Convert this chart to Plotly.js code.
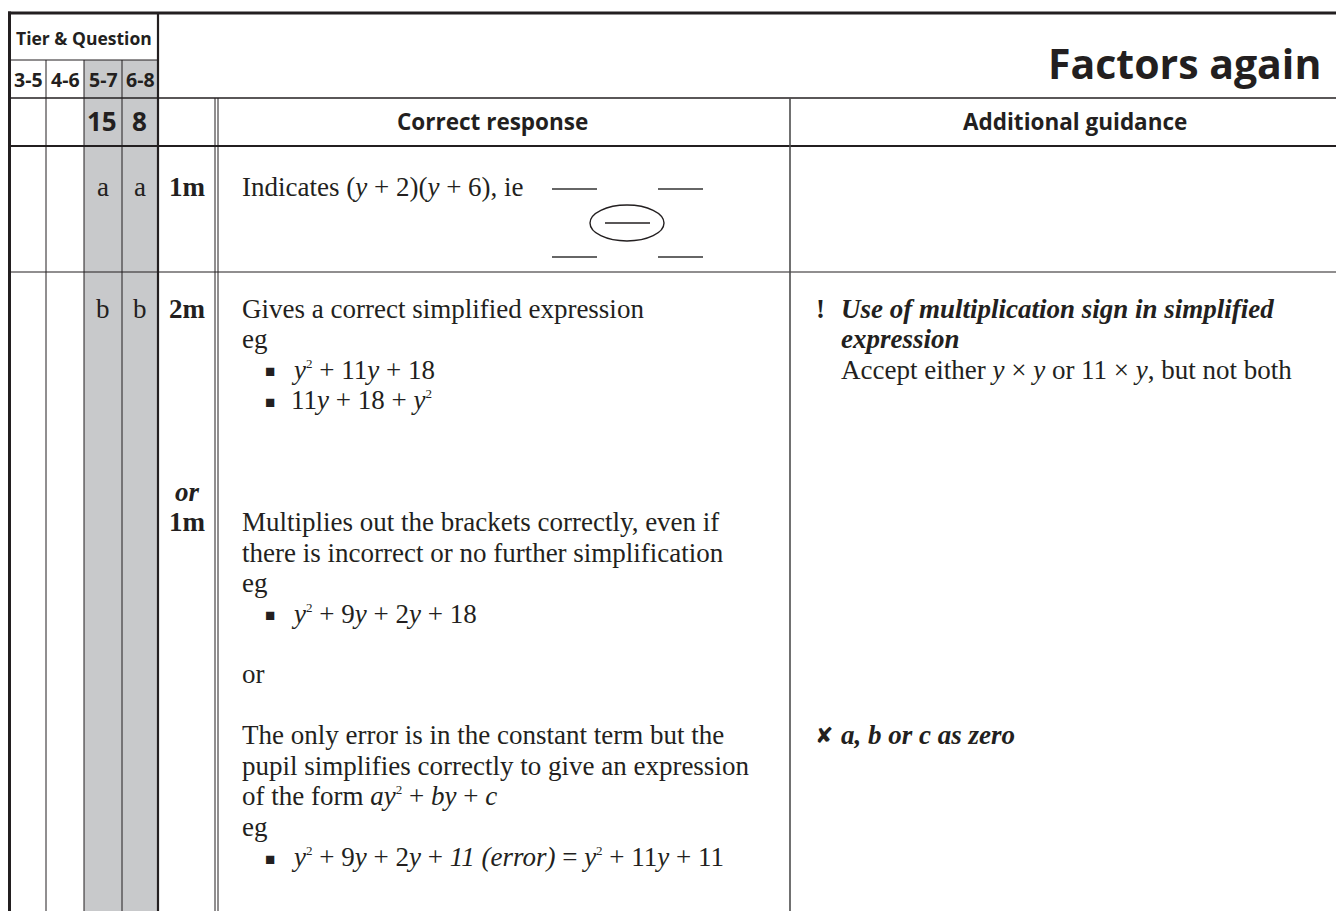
<!DOCTYPE html>
<html>
<head>
<meta charset="utf-8">
<script src="https://cdn.plot.ly/plotly-3.0.1.min.js"></script>
<style>
html,body{margin:0;padding:0;background:#ffffff;overflow:hidden}
#chart{width:1336px;height:911px}
</style>
</head>
<body>
<div id="chart"></div>
<script>
// ---------------- content (data) ----------------
const pageTitle = "Factors again";
const tierHeader = "Tier &amp; Question";
const tierBands = ["3-5", "4-6", "5-7", "6-8"];
const highlightedTiers = ["5-7", "6-8"];
const questionNumbers = ["", "", "15", "8"];
const columnHeaders = ["Correct response", "Additional guidance"];

const SQ = '<sup><span style="font-size:13px">2</span></sup>';

const partsRowA = ["", "", "a", "a"];
const marksRowA = ["1m"];
const responseRowA = ["Indicates (<i>y</i> + 2)(<i>y</i> + 6), ie"];

const partsRowB = ["", "", "b", "b"];
// one entry per text line of the row; "" = empty line
const marksRowB = ["<b>2m</b>", "", "", "", "", "", "<b><i>or</i></b>", "<b>1m</b>"];
// [glyph, text] per line
const responseRowB = [
  ["", "Gives a correct simplified expression"],
  ["", "eg"],
  ["■", "<i>y</i>" + SQ + " + 11<i>y</i> + 18"],
  ["■", "11<i>y</i> + 18 + <i>y</i>" + SQ],
  ["", ""], ["", ""], ["", ""],
  ["", "Multiplies out the brackets correctly, even if"],
  ["", "there is incorrect or no further simplification"],
  ["", "eg"],
  ["■", "<i>y</i>" + SQ + " + 9<i>y</i> + 2<i>y</i> + 18"],
  ["", ""],
  ["", "or"],
  ["", ""],
  ["", "The only error is in the constant term but the"],
  ["", "pupil simplifies correctly to give an expression"],
  ["", "of the form <i>ay</i>" + SQ + " + <i>by</i> + <i>c</i>"],
  ["", "eg"],
  ["■", "<i>y</i>" + SQ + " + 9<i>y</i> + 2<i>y</i> + <i>11 (error)</i> = <i>y</i>" + SQ + " + 11<i>y</i> + 11"]
];
const guidanceRowB = [
  ["!", "<b><i>Use of multiplication sign in simplified</i></b>"],
  ["", "<b><i>expression</i></b>"],
  ["", "Accept either <i>y</i> × <i>y</i> or 11 × <i>y</i>, but not both"],
  ["", ""], ["", ""], ["", ""], ["", ""], ["", ""], ["", ""], ["", ""], ["", ""], ["", ""], ["", ""], ["", ""],
  ["✘", "<b><i>a, b or c as zero</i></b>"]
];

// ---------------- geometry & styles ----------------
const W = 1336, H = 911;
const SANS = "Open Sans, Noto Sans, sans-serif";
const SERIF = "Liberation Serif, Times New Roman, serif";
const INK = "#231f20";
const GREY = "#c8c9cb";
const colEdges = [10, 46, 84, 122, 158];   // tier sub-columns
const markRight = 215, respLeft = 218, guideLeft = 790;
const yTop = 13, yTierSplit = 60, yHead1 = 98, yHead2 = 146, yRowA = 272;
const rowBStart = 310, lineGap = 30.45;
const bodySize = 27;

const shapes = [];
const line = (x0, y0, x1, y1, w, c) => shapes.push({type: "line", xref: "x", yref: "y", x0, y0, x1, y1, layer: "above", line: {color: c || INK, width: w}});

// grey highlighted tier columns
tierBands.forEach((t, i) => {
  if (highlightedTiers.includes(t)) {
    shapes.push({type: "rect", xref: "x", yref: "y", x0: colEdges[i], x1: colEdges[i + 1], y0: yTierSplit, y1: H,
      fillcolor: GREY, line: {width: 0}, layer: "below"});
  }
});

// frame and grid
line(9.5, yTop - 1.5, 9.5, H, 3);
line(8, yTop, W, yTop, 3);
line(colEdges[4], yTop, colEdges[4], H, 2.2);
line(10, yTierSplit, colEdges[4], yTierSplit, 1);
line(10, yHead1, W, yHead1, 1.3);
line(10, yHead2, W, yHead2, 2.2);
line(10, yRowA, W, yRowA, 1.1);
for (let i = 1; i < 4; i++) line(colEdges[i], yTierSplit, colEdges[i], H, 1);
line(markRight, yHead1, markRight, H, 1);
line(respLeft, yHead1, respLeft, H, 1);
line(guideLeft, yHead1, guideLeft, H, 1.6, "#4d4d4d");

// diagram in row a: blanks and circled line
const blankY1 = 189, blankY2 = 257;
[[552, 597], [658, 703]].forEach(([a, b]) => {
  line(a, blankY1, b, blankY1, 1.3, "#333");
  line(a, blankY2, b, blankY2, 1.3, "#333");
});
shapes.push({type: "circle", xref: "x", yref: "y", x0: 590, x1: 664, y0: 205, y1: 241, layer: "above", line: {color: INK, width: 1.4}});
line(605, 223, 650, 223, 1.4);

// ---------------- text ----------------
const annotations = [];
const txt = (x, y, text, size, family, xanchor, extra) => annotations.push(Object.assign({
  xref: "x", yref: "y", x, y, text, showarrow: false, xanchor: xanchor || "left", yanchor: "middle",
  font: {family, size, color: INK}
}, extra || {}));

txt(W - 13, 63, "<b>" + pageTitle + "</b>", 41, SANS, "right");
txt((colEdges[0] + colEdges[4]) / 2, 38, "<b>" + tierHeader + "</b>", 17.5, SANS, "center");
tierBands.forEach((t, i) => {
  const cx = (colEdges[i] + colEdges[i + 1]) / 2;
  txt(cx, 79, "<b>" + t + "</b>", 19.5, SANS, "center");
  if (questionNumbers[i]) txt(cx - 1, 121, "<b>" + questionNumbers[i] + "</b>", 26, SANS, "center");
  if (partsRowA[i]) txt(cx, 187, partsRowA[i], bodySize, SERIF, "center");
  if (partsRowB[i]) txt(cx, rowBStart - 1, partsRowB[i], bodySize, SERIF, "center");
});
txt((respLeft + guideLeft) / 2 - 12, 121, "<b>" + columnHeaders[0] + "</b>", 22.5, SANS, "center");
txt((guideLeft + W + 14) / 2 + 5, 121, "<b>" + columnHeaders[1] + "</b>", 22.5, SANS, "center");

const markCx = (colEdges[4] + markRight) / 2 + 1;
marksRowA.forEach((m) => txt(markCx, 187, "<b>" + m + "</b>", bodySize, SERIF, "center"));
responseRowA.forEach((r) => txt(240, 187, r, bodySize, SERIF, "left"));

marksRowB.forEach((m, i) => { if (m) txt(markCx, rowBStart + i * lineGap - 1, m, bodySize, SERIF, "center"); });
responseRowB.forEach(([g, t], i) => {
  const y = rowBStart + i * lineGap - 1;
  if (g) txt(270, y + 2, g, 17, SERIF, "center");
  if (t) txt(g ? 289 : 240, y, t, bodySize, SERIF, "left");
});
guidanceRowB.forEach(([g, t], i) => {
  const y = rowBStart + i * lineGap - 1;
  if (g === "!") txt(820, y, "<b>!</b>", bodySize, SERIF, "center");
  if (g === "✘") txt(824, y, "✘", 22, "DejaVu Sans, sans-serif", "center");
  if (t) txt(839, y, t, bodySize, SERIF, "left");
});

const layout = {
  width: W, height: H,
  margin: {l: 0, r: 0, t: 0, b: 0, pad: 0},
  paper_bgcolor: "#ffffff", plot_bgcolor: "#ffffff",
  showlegend: false,
  xaxis: {range: [0, W], visible: false, fixedrange: true},
  yaxis: {range: [H, 0], visible: false, fixedrange: true},
  shapes, annotations
};
Plotly.newPlot("chart", [], layout, {displayModeBar: false, staticPlot: true});
</script>
</body>
</html>
